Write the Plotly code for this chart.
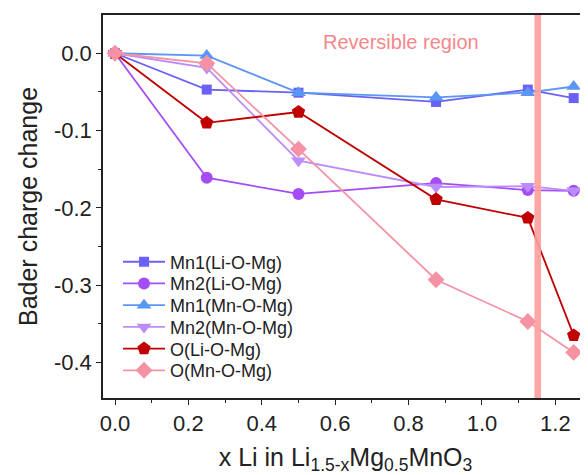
import plotly.graph_objects as go

x_li = [0.0, 0.25, 0.5, 0.875, 1.125, 1.25]

series_names = ["Mn1(Li-O-Mg)", "Mn2(Li-O-Mg)", "Mn1(Mn-O-Mg)",
                "Mn2(Mn-O-Mg)", "O(Li-O-Mg)", "O(Mn-O-Mg)"]

mn1_li = [0.0, -0.047, -0.051, -0.063, -0.047, -0.058]
mn2_li = [0.0, -0.161, -0.182, -0.168, -0.177, -0.178]
mn1_mn = [0.0, -0.003, -0.051, -0.057, -0.051, -0.043]
mn2_mn = [0.0, -0.019, -0.139, -0.173, -0.172, -0.178]
o_li = [0.0, -0.090, -0.076, -0.189, -0.213, -0.365]
o_mn = [0.0, -0.013, -0.124, -0.293, -0.347, -0.387]

y_tick_vals = [0.0, -0.1, -0.2, -0.3, -0.4]
y_tick_text = ["0.0", "-0.1", "-0.2", "-0.3", "-0.4"]
x_tick_vals = [0.0, 0.2, 0.4, 0.6, 0.8, 1.0, 1.2]
x_tick_text = ["0.0", "0.2", "0.4", "0.6", "0.8", "1.0", "1.2"]

boundary_x = 1.152
annotation_text = "Reversible region"

all_values = [mn1_li, mn2_li, mn1_mn, mn2_mn, o_li, o_mn]
colors = ["#6a62f7", "#a54cf5", "#5b96f5", "#bd8cfb", "#c00000", "#f593a5"]
symbols = ["square", "circle", "triangle-up", "triangle-down", "pentagon", "diamond"]
sizes = [10, 12, 13, 13, 14, 13]

FONT = "Liberation Sans, Arial, sans-serif"

fig = go.Figure()
legend_ids = ["legend"] + ["legend%d" % (i + 2) for i in range(len(series_names) - 1)]
for name, vals, c, s, sz, lg in zip(series_names, all_values, colors, symbols, sizes, legend_ids):
    fig.add_trace(go.Scatter(
        x=x_li, y=vals, name=name, mode="lines+markers",
        line=dict(color=c, width=1.8),
        marker=dict(symbol=s, size=sz, color=c, line=dict(width=0)),
        legend=lg,
    ))

fig.add_vrect(x0=boundary_x - 0.009, x1=boundary_x + 0.009,
              fillcolor="#ff9d9d", opacity=0.9, line_width=0, layer="above")

fig.add_annotation(x=0.78, y=0.015, text=annotation_text, showarrow=False,
                   font=dict(family=FONT, size=20, color="#f4878a"))

axis_common = dict(
    showgrid=False, zeroline=False, showline=True, linecolor="#222",
    linewidth=1.6, ticks="outside", tickcolor="#222", ticklen=5, tickwidth=1.4,
    tickfont=dict(family=FONT, size=22, color="#222"), automargin=False,
)

fig.update_xaxes(
    range=[-0.0327, 1.289], tickvals=x_tick_vals, ticktext=x_tick_text,
    mirror=True,
    minor=dict(dtick=0.1, ticks="outside", ticklen=3, tickcolor="#222", tickwidth=1.2),
    title=dict(text="x Li in Li<sub>1.5-x</sub>Mg<sub>0.5</sub>MnO<sub>3</sub>",
               font=dict(family=FONT, size=25, color="#222"), standoff=13),
    **axis_common,
)
fig.update_yaxes(
    range=[-0.446, 0.0495], tickvals=y_tick_vals, ticktext=y_tick_text,
    minor=dict(dtick=0.05, ticks="outside", ticklen=3, tickcolor="#222", tickwidth=1.2),
    title=dict(text="Bader charge change",
               font=dict(family=FONT, size=25, color="#222"), standoff=9),
    **axis_common,
)

# the page body has an 8px margin, so the figure is 8px smaller and margins shift
layout_legends = {}
row0 = 0.355
row_step = 0.0567
for i, lg in enumerate(legend_ids):
    layout_legends[lg] = dict(
        x=0.031, y=row0 - i * row_step, xanchor="left", yanchor="middle",
        bgcolor="rgba(0,0,0,0)", itemwidth=42,
        font=dict(family=FONT, size=18, color="#222"),
    )

fig.update_layout(
    width=580, height=467,
    margin=dict(l=95, r=0, t=7, b=77),
    plot_bgcolor="white", paper_bgcolor="white",
    font=dict(family=FONT, color="#222"),
    showlegend=True,
    **layout_legends,
)

fig.write_html("out.html")
